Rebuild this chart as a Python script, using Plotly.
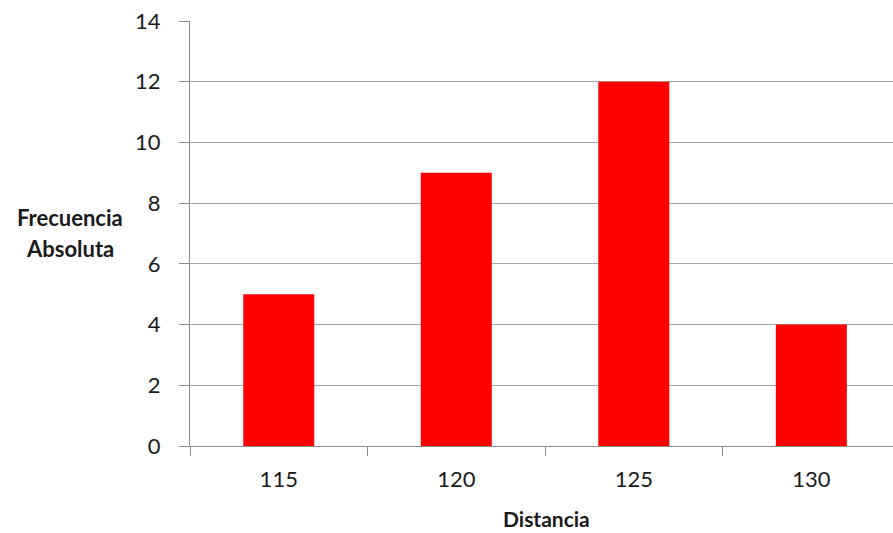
import plotly.graph_objects as go

categories = ["115", "120", "125", "130"]
values = [5, 9, 12, 4]
y_ticks = [0, 2, 4, 6, 8, 10, 12, 14]

fig = go.Figure()
fig.add_trace(go.Bar(x=categories, y=values, marker_color="#ff0000",
                     marker_line_width=0, width=0.4))

L, R, T, B, W, H = 190, 0, 21, 87, 893, 533

def px(x, y):
    return (x - L) / (W - L - R), (H - y - B) / (H - T - B)

ann = []
for text, x, y, s in [("<b>Frecuencia</b>", 70, 217, 22), ("<b>Absoluta</b>", 70, 248, 22),
                      ("<b>Distancia</b>", 546, 518, 21)]:
    ax, ay = px(x, y)
    ann.append(dict(text=text, x=ax, y=ay, xref="paper", yref="paper", xanchor="center",
                    yanchor="middle", showarrow=False, borderpad=0,
                    font=dict(size=s, color="#1a1a1a")))

fig.update_layout(
    width=W, height=H,
    margin=dict(l=L, r=R, t=T, b=B),
    paper_bgcolor="white", plot_bgcolor="white",
    font=dict(family="Lato, Open Sans, sans-serif", size=22, color="#1a1a1a"),
    showlegend=False,
    xaxis=dict(type="category", range=[-0.5, 3.46], showgrid=False,
               showline=True, linecolor="#8c8c8c", linewidth=1,
               ticks="outside", tickson="boundaries", ticklen=9, tickcolor="#8c8c8c",
               ticklabelstandoff=14),
    yaxis=dict(range=[0, 14], tickvals=y_ticks, showgrid=True, gridcolor="#a6a6a6",
               gridwidth=1, showline=True, linecolor="#8c8c8c", linewidth=1,
               ticks="outside", ticklen=10, tickcolor="#8c8c8c", zeroline=False,
               ticklabelstandoff=14),
    annotations=ann,
)

fig.write_html("out.html")
